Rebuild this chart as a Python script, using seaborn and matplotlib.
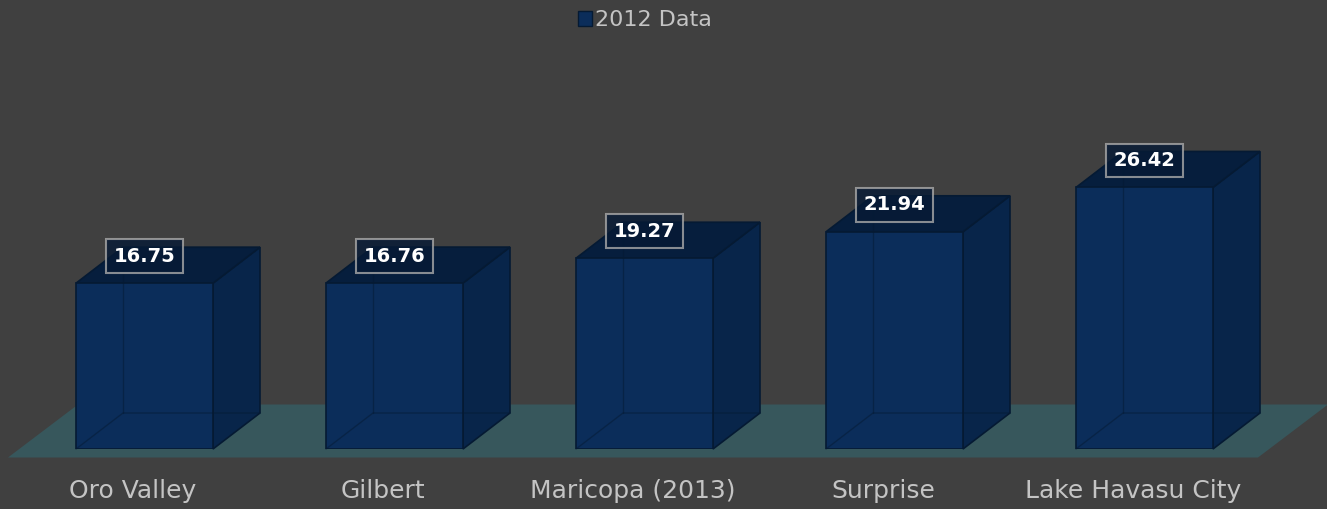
import seaborn as sns
import matplotlib.pyplot as plt
import matplotlib.patches as mpatches
from matplotlib.transforms import ScaledTranslation

cities = ["Oro Valley", "Gilbert", "Maricopa (2013)", "Surprise", "Lake Havasu City"]
values = [16.75, 16.76, 19.27, 21.94, 26.42]
series_name = "2012 Data"

BG = "#404040"
FLOOR = "#37575c"
FRONT = "#0b2d5a"
SIDE = "#08254a"
TOP = "#061e3d"
EDGE = "#051a33"
TEXT = "#c4c4c4"

sns.set_theme(style="white")
plt.rcParams["font.family"] = ["DejaVu Sans"]

fig = plt.figure(figsize=(13.27, 5.09), dpi=100, facecolor=BG)
ax = fig.add_axes([19.5 / 1327, 60 / 509, 1250 / 1327, 396 / 509])
ax.set_facecolor("none")

sns.barplot(x=cities, y=values, color=FRONT, saturation=1, width=0.548,
            edgecolor=EDGE, linewidth=1.2, ax=ax, zorder=3)
ax.set_xlim(-0.5, 4.5)
ax.set_ylim(0, 40)


def shifted(x, y, dx, dy):
    # move a data point by (dx, dy) inches on screen, return data coords
    px, py = ax.transData.transform((x, y))
    return tuple(ax.transData.inverted().transform((px + dx * fig.dpi, py + dy * fig.dpi)))


bar_dx, bar_dy = 0.47, 0.36
floor_dx, floor_dy = 0.70, 0.53
off_x, off_y = -(floor_dx - bar_dx) / 2, -(floor_dy - bar_dy) / 2

bars = list(ax.containers[0])

# floor
f0 = shifted(-0.5, 0, off_x, off_y)
f1 = shifted(4.5, 0, off_x, off_y)
f2 = shifted(f1[0], f1[1], floor_dx, floor_dy)
f3 = shifted(f0[0], f0[1], floor_dx, floor_dy)
ax.add_patch(mpatches.Polygon([f0, f1, f2, f3], closed=True, fc=FLOOR, ec="none",
                              zorder=0, clip_on=False))

for bar in bars:
    x0 = bar.get_x()
    x1 = x0 + bar.get_width()
    h = bar.get_height()
    bl_back = shifted(x0, 0, bar_dx, bar_dy)
    br_back = shifted(x1, 0, bar_dx, bar_dy)
    tl_back = shifted(x0, h, bar_dx, bar_dy)
    tr_back = shifted(x1, h, bar_dx, bar_dy)
    side = mpatches.Polygon([(x1, 0), br_back, tr_back, (x1, h)], closed=True,
                            fc=SIDE, ec=EDGE, lw=1.2, zorder=2, clip_on=False)
    top = mpatches.Polygon([(x0, h), (x1, h), tr_back, tl_back], closed=True,
                           fc=TOP, ec=EDGE, lw=1.2, zorder=2, clip_on=False)
    ax.add_patch(side)
    ax.add_patch(top)
    # hidden edges seen through the front face
    ax.plot([x0, bl_back[0], br_back[0]], [0, bl_back[1], br_back[1]],
            color=EDGE, lw=1, alpha=0.5, zorder=4, clip_on=False)
    ax.plot([bl_back[0], tl_back[0]], [bl_back[1], tl_back[1]],
            color=EDGE, lw=1, alpha=0.5, zorder=4, clip_on=False)

label_tr = ax.transData + ScaledTranslation(0, 0.27, fig.dpi_scale_trans)
for i, v in enumerate(values):
    ax.text(i, v, f"{v:.2f}", transform=label_tr, ha="center", va="center",
            fontsize=14, fontweight="bold", color="white", zorder=6,
            bbox=dict(boxstyle="square,pad=0.38", fc="#061a35", ec="#a9a9a9",
                      lw=1.5, alpha=0.8))

cat_tr = ax.transData + ScaledTranslation(off_x, -0.42, fig.dpi_scale_trans)
for i, c in enumerate(cities):
    ax.text(i, 0, c, transform=cat_tr, ha="center", va="center",
            fontsize=18, color=TEXT)

ax.set_xticks([])
ax.set_yticks([])
ax.set_xlabel("")
ax.set_ylabel("")
sns.despine(ax=ax, left=True, bottom=True)

handle = mpatches.Patch(fc=FRONT, ec=EDGE, label=series_name)
fig.legend(handles=[handle], loc="center", bbox_to_anchor=(645 / 1327, 1 - 20 / 509),
           frameon=False, fontsize=16, labelcolor=TEXT, handlelength=0.65,
           handleheight=0.65, handletextpad=0.15)

fig.savefig("out.png", dpi=100, facecolor=BG)
